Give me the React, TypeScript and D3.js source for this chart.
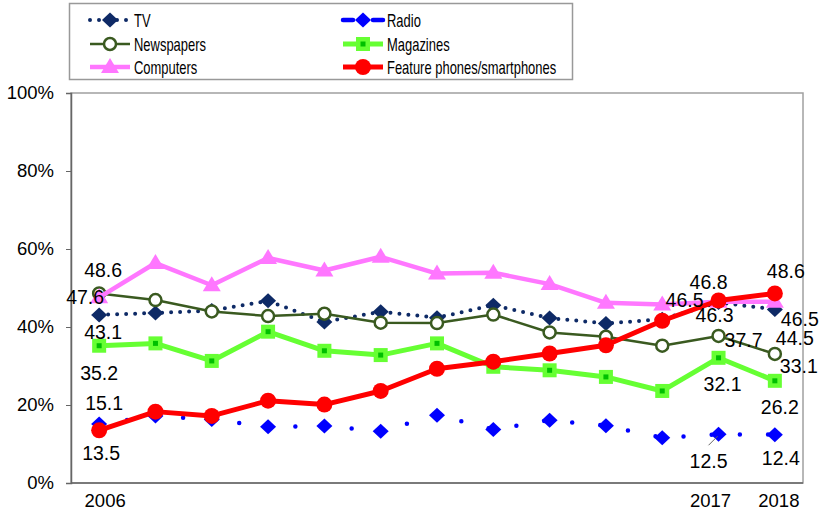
import React, { useEffect, useRef } from "react";
import * as d3 from "d3";

const years = ["2006", "2007", "2008", "2009", "2010", "2011", "2012", "2013", "2014", "2015", "2016", "2017", "2018"];
const shownYears = ["2006", "2017", "2018"];
const yTicks = [0, 20, 40, 60, 80, 100];

const tv = [43.1, 43.6, 44.2, 46.7, 41.3, 43.9, 42.4, 45.6, 42.3, 40.9, 42.0, 46.3, 44.5];
const radio = [15.1, 17.2, 16.3, 14.4, 14.6, 13.3, 17.4, 13.7, 16.1, 14.7, 11.6, 12.5, 12.4];
const newspapers = [48.6, 46.9, 44.0, 42.8, 43.4, 41.1, 41.0, 43.2, 38.6, 37.5, 35.2, 37.7, 33.1];
const magazines = [35.2, 35.8, 31.3, 38.8, 33.9, 32.8, 35.8, 29.8, 28.9, 27.2, 23.6, 32.1, 26.2];
const computers = [47.6, 56.4, 50.7, 57.7, 54.5, 58.0, 53.7, 53.9, 51.0, 46.2, 45.8, 46.5, 46.5];
const phones = [13.5, 18.3, 17.2, 21.1, 20.1, 23.6, 29.3, 31.1, 33.2, 35.3, 41.6, 46.8, 48.6];

const labelled = [0, 11, 12];

type Series = {
  name: string;
  values: number[];
  color: string;
  width: number;
  dash: string | null;
  marker: string;
  offsets: number[][];
};

const series: Series[] = [
  { name: "TV", values: tv, color: "#0e2a66", width: 4, dash: "0 9", marker: "diamond", offsets: [[4, 24], [-4, 20], [20, 36]] },
  { name: "Radio", values: radio, color: "#0000ff", width: 4.5, dash: "0 28.2", marker: "diamond", offsets: [[5, -14], [-10, 34], [6, 30]] },
  { name: "Newspapers", values: newspapers, color: "#3a5a20", width: 2.5, dash: null, marker: "ring", offsets: [[4, -16], [25, 11], [24, 19]] },
  { name: "Magazines", values: magazines, color: "#66ff33", width: 5, dash: null, marker: "square", offsets: [[0, 34], [4, 33], [5, 33]] },
  { name: "Computers", values: computers, color: "#ff77ff", width: 4.5, dash: null, marker: "triangle", offsets: [[-14, 7], [-34, 5], [25, 24]] },
  { name: "Feature phones/smartphones", values: phones, color: "#ff0000", width: 5, dash: null, marker: "dot", offsets: [[2, 30], [-10, -11], [11, -15]] },
];

const margin = { left: 71, top: 93, right: 18, bottom: 28 };
const W = 821;
const H = 511;
const font = "'Liberation Sans', Arial, sans-serif";

function drawMarker(g: any, kind: string, color: string) {
  if (kind === "diamond") {
    g.append("path").attr("d", "M0,-7.5L8,0L0,7.5L-8,0Z").attr("fill", color);
  } else if (kind === "ring") {
    g.append("circle").attr("r", 6).attr("fill", "#fff").attr("stroke", color).attr("stroke-width", 2.5);
  } else if (kind === "square") {
    g.append("rect").attr("x", -7).attr("y", -7).attr("width", 14).attr("height", 14).attr("fill", color);
    g.append("rect").attr("x", -2.5).attr("y", -2.5).attr("width", 5).attr("height", 5).attr("fill", "#00c000");
  } else if (kind === "triangle") {
    g.append("path").attr("d", "M0,-9L9,6L-9,6Z").attr("fill", color);
  } else if (kind === "dot") {
    g.append("circle").attr("r", 8).attr("fill", color);
  }
}

const App = () => {
  const ref = useRef<SVGSVGElement>(null);

  useEffect(() => {
    const svg = d3.select(ref.current);
    svg.selectAll("*").remove();

    const x = d3.scaleBand().domain(years).range([margin.left, W - margin.right]);
    const y = d3.scaleLinear().domain([0, 100]).range([H - margin.bottom, margin.top]);
    const cx = (d: string) => (x(d) as number) + x.bandwidth() / 2;

    // plot frame
    svg
      .append("rect")
      .attr("x", margin.left)
      .attr("y", margin.top)
      .attr("width", W - margin.right - margin.left)
      .attr("height", H - margin.bottom - margin.top)
      .attr("fill", "none")
      .attr("stroke", "#a0a0a0")
      .attr("stroke-width", 1.5);

    const yAxis = svg
      .append("g")
      .attr("transform", `translate(${margin.left},0)`)
      .call(d3.axisLeft(y).tickValues(yTicks).tickSize(5).tickPadding(12).tickFormat((d: any) => d + "%"));
    yAxis.select(".domain").attr("stroke", "#666").attr("stroke-width", 1.5);
    yAxis.selectAll("line").attr("stroke", "#666");
    yAxis.selectAll("text").attr("font-family", font).attr("font-size", 18.5).attr("fill", "#000");

    svg
      .append("line")
      .attr("x1", margin.left)
      .attr("x2", W - margin.right)
      .attr("y1", y(0))
      .attr("y2", y(0))
      .attr("stroke", "#666")
      .attr("stroke-width", 1.5);

    svg
      .append("g")
      .selectAll("text")
      .data(shownYears)
      .join("text")
      .attr("x", (d) => cx(d) + (d === "2006" ? 6 : d === "2017" ? -8 : 4))
      .attr("y", y(0) + 24)
      .attr("text-anchor", "middle")
      .attr("font-family", font)
      .attr("font-size", 18.5)
      .text((d) => d);

    const line = d3
      .line<number>()
      .x((_, i) => cx(years[i]))
      .y((d) => y(d));

    series.forEach((s) => {
      svg
        .append("path")
        .datum(s.values)
        .attr("fill", "none")
        .attr("stroke", s.color)
        .attr("stroke-width", s.width)
        .attr("stroke-linecap", s.dash ? "round" : "butt")
        .attr("stroke-linejoin", "round")
        .attr("stroke-dasharray", s.dash)
        .attr("d", line);
      s.values.forEach((v, i) => {
        const g = svg.append("g").attr("transform", `translate(${cx(years[i])},${y(v)})`);
        drawMarker(g, s.marker, s.color);
      });
    });

    // leader line for radio 2017
    svg
      .append("line")
      .attr("x1", cx("2017") - 10)
      .attr("y1", y(radio[11]) + 11)
      .attr("x2", cx("2017") - 1)
      .attr("y2", y(radio[11]) + 2)
      .attr("stroke", "#666")
      .attr("stroke-width", 1);

    // data labels
    series.forEach((s) => {
      labelled.forEach((idx, k) => {
        const [dx, dy] = s.offsets[k];
        svg
          .append("text")
          .attr("x", cx(years[idx]) + dx)
          .attr("y", y(s.values[idx]) + dy)
          .attr("text-anchor", "middle")
          .attr("font-family", font)
          .attr("font-size", 19.5)
          .attr("fill", "#000")
          .text(s.values[idx].toFixed(1));
      });
    });

    // legend
    const lg = svg.append("g");
    lg.append("rect")
      .attr("x", 69.5)
      .attr("y", 3.5)
      .attr("width", 503)
      .attr("height", 76)
      .attr("fill", "#fff")
      .attr("stroke", "#999")
      .attr("stroke-width", 1.5);
    const cols = [90, 343];
    const rows = [20, 44, 67];
    series.forEach((s, i) => {
      const lx = cols[i % 2];
      const ly = rows[Math.floor(i / 2)];
      lg.append("line")
        .attr("x1", lx)
        .attr("x2", lx + 40)
        .attr("y1", ly)
        .attr("y2", ly)
        .attr("stroke", s.color)
        .attr("stroke-width", s.width)
        .attr("stroke-linecap", s.dash ? "round" : "butt")
        .attr("stroke-dasharray", s.name === "Radio" ? "10 20" : s.dash);
      drawMarker(lg.append("g").attr("transform", `translate(${lx + 20},${ly})`), s.marker, s.color);
      lg.append("text")
        .attr("transform", `translate(${lx + 44},${ly + 6.5}) scale(0.72,1)`)
        .attr("font-family", font)
        .attr("font-size", 18)
        .attr("fill", "#000")
        .text(s.name);
    });
  }, []);

  return (
    <div style={{ position: "absolute", left: 0, top: 0 }}>
      <svg ref={ref} width={W} height={H} style={{ display: "block", background: "#fff" }} />
    </div>
  );
};

export default App;
